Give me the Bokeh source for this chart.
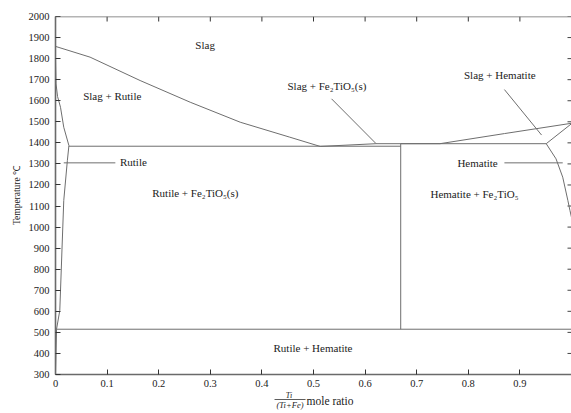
from bokeh.plotting import figure
from bokeh.layouts import column
from bokeh.models import (Range1d, FixedTicker, Label, Span)
from bokeh.core.properties import value
from bokeh.embed import file_html
from bokeh.resources import INLINE

# ---------------- data ----------------
x_ticks = [0, 0.1, 0.2, 0.3, 0.4, 0.5, 0.6, 0.7, 0.8, 0.9]
x_tick_labels = ["0", "0.1", "0.2", "0.3", "0.4", "0.5", "0.6", "0.7", "0.8", "0.9"]
y_ticks = list(range(300, 2001, 100))

liq_rutile_x = [0.0, 0.067, 0.164, 0.261, 0.358, 0.454, 0.513]
liq_rutile_t = [1858, 1807, 1696, 1593, 1498, 1427, 1383]

liq_fe2tio5_x = [0.513, 0.621, 0.745]
liq_fe2tio5_t = [1383, 1396, 1396]

liq_hem_x = [0.745, 0.87, 1.0]
liq_hem_t = [1396, 1444, 1493]

hem_upper_x = [0.951, 1.0]
hem_upper_t = [1396, 1491]

hem_solvus_x = [0.951, 0.970, 0.983, 0.993, 0.997, 1.0]
hem_solvus_t = [1396, 1324, 1237, 1126, 1079, 1046]

rut_solvus_x = [0.0, 0.001, 0.004, 0.0097, 0.016, 0.026, 0.023, 0.016, 0.0083, 0.002, 0.0]
rut_solvus_t = [1807, 1680, 1620, 1569, 1474, 1387, 1316, 1126, 604, 515, 300]

peritectic_x = [0.669, 0.951]
peritectic_t = [1396, 1396]

eutectic_x = [0.026, 0.669]
eutectic_t = [1384, 1384]

vertical_x = [0.669, 0.669]
vertical_t = [1396, 515]

low_x = [0.0, 1.0]
low_t = [515, 515]

leader_rutile_x = [0.016, 0.116]
leader_rutile_t = [1305, 1305]
leader_hem_x = [0.870, 0.983]
leader_hem_t = [1305, 1305]
leader_slaghem_x = [0.870, 0.942]
leader_slaghem_t = [1653, 1437]
leader_slagfe_x = [0.535, 0.621]
leader_slagfe_t = [1609, 1397]

region_labels = ["Slag", "Slag + Rutile", "Slag + Fe₂TiO₅(s)", "Slag + Hematite",
                 "Rutile", "Rutile + Fe₂TiO₅(s)", "Hematite", "Hematite + Fe₂TiO₅",
                 "Rutile + Hematite"]
region_x = [0.290, 0.110, 0.526, 0.861, 0.151, 0.271, 0.818, 0.812, 0.499]
region_t = [1867, 1622, 1672, 1720, 1307, 1160, 1305, 1158, 424]

x_title_numerator = "Ti"
x_title_denominator = "(Ti+Fe)"
x_title_unit = "mole ratio"
y_title = "Temperature ℃"

# ---------------- figure ----------------
FONT = "Liberation Serif"
LINE = "#6e6e6e"
AXIS = "#6a6a6a"
X0, X1, T0, T1 = 0.0, 1.0, 300, 2000
W, H_MAIN, H_STRIP = 571, 391, 22

xr = Range1d(X0, X1)
p = figure(width=W, height=H_MAIN, output_backend="svg", toolbar_location=None,
           x_range=xr, y_range=Range1d(T0, T1),
           min_border_left=55, min_border_top=16, min_border_bottom=17,
           min_border_right=0)
p.background_fill_color = "white"
p.border_fill_color = "white"
p.outline_line_color = None
p.grid.visible = False

def style_axis(ax):
    ax.axis_line_color = AXIS
    ax.axis_line_width = 1.6
    ax.major_tick_in = 5
    ax.major_tick_out = 0
    ax.major_tick_line_color = "#333333"
    ax.major_tick_line_width = 1
    ax.minor_tick_line_color = None
    ax.major_label_text_font = FONT
    ax.major_label_text_color = "#222222"
    ax.major_label_text_font_size = "10.5px"
    ax.major_label_standoff = 6

xa = p.xaxis[0]
xa.ticker = FixedTicker(ticks=x_ticks)
xa.major_label_overrides = {t: l for t, l in zip(x_ticks, x_tick_labels)}
style_axis(xa)
xa.major_label_standoff = 5

ya = p.yaxis[0]
ya.ticker = FixedTicker(ticks=y_ticks)
style_axis(ya)
ya.axis_label = y_title
ya.axis_label_text_font = FONT
ya.axis_label_text_font_style = "normal"
ya.axis_label_text_font_size = "9.5px"
ya.axis_label_text_color = "#222222"
ya.axis_label_standoff = 4

# top frame line with inward ticks, and inward ticks on the right edge
p.add_layout(Span(location=T1, dimension="width", line_color=AXIS, line_width=1.6))
tick_len_t = (T1 - T0) * 5 / 358
tick_len_x = (X1 - X0) * 4 / 516
p.segment(x0=x_ticks, y0=[T1] * len(x_ticks), x1=x_ticks,
          y1=[T1 - tick_len_t] * len(x_ticks), line_color="#333333", line_width=1)
p.segment(x0=[X1] * len(y_ticks), y0=y_ticks, x1=[X1 - tick_len_x] * len(y_ticks),
          y1=y_ticks, line_color="#444444", line_width=1)

# ---------------- lines ----------------
series = [
    (liq_rutile_x, liq_rutile_t), (liq_fe2tio5_x, liq_fe2tio5_t),
    (liq_hem_x, liq_hem_t), (hem_upper_x, hem_upper_t),
    (hem_solvus_x, hem_solvus_t), (rut_solvus_x, rut_solvus_t),
    (peritectic_x, peritectic_t), (eutectic_x, eutectic_t),
    (vertical_x, vertical_t), (low_x, low_t),
    (leader_rutile_x, leader_rutile_t), (leader_hem_x, leader_hem_t),
    (leader_slaghem_x, leader_slaghem_t), (leader_slagfe_x, leader_slagfe_t),
]
for xs, ts in series:
    p.line(xs, ts, line_color=LINE, line_width=1)

# ---------------- region labels ----------------
for txt, x, t in zip(region_labels, region_x, region_t):
    p.add_layout(Label(x=x, y=t, text=txt, text_font=FONT, text_font_size="11px",
                       text_color="#222222", text_align="center",
                       text_baseline="middle"))

# ---------------- x axis title strip (fraction + "mole ratio") ----------------
s = figure(width=W, height=H_STRIP, output_backend="svg", toolbar_location=None,
           x_range=xr, y_range=Range1d(0, H_STRIP),
           x_axis_type=None, y_axis_type=None,
           min_border_left=55, min_border_right=0, min_border_top=0,
           min_border_bottom=0)
s.outline_line_color = None
s.grid.visible = False
s.background_fill_color = "white"
s.border_fill_color = "white"

s.text(x=[0.4525], y=[18.3], text=[x_title_numerator], text_font=value(FONT),
       text_font_style="italic", text_font_size="8px", text_color="#222222",
       text_align="center", text_baseline="middle")
s.text(x=[0.4545], y=[8.8], text=[x_title_denominator], text_font=value(FONT),
       text_font_style="italic", text_font_size="8.5px", text_color="#222222",
       text_align="center", text_baseline="middle")
s.segment(x0=[0.4245], y0=[14], x1=[0.4846], y1=[14],
          line_color="#333333", line_width=0.8)
s.text(x=[0.532], y=[13], text=[x_title_unit], text_font=value(FONT),
       text_font_size="11.5px", text_color="#222222",
       text_align="center", text_baseline="middle")

layout = column(p, s, spacing=0)
open("out.html", "w").write(file_html(layout, INLINE))
